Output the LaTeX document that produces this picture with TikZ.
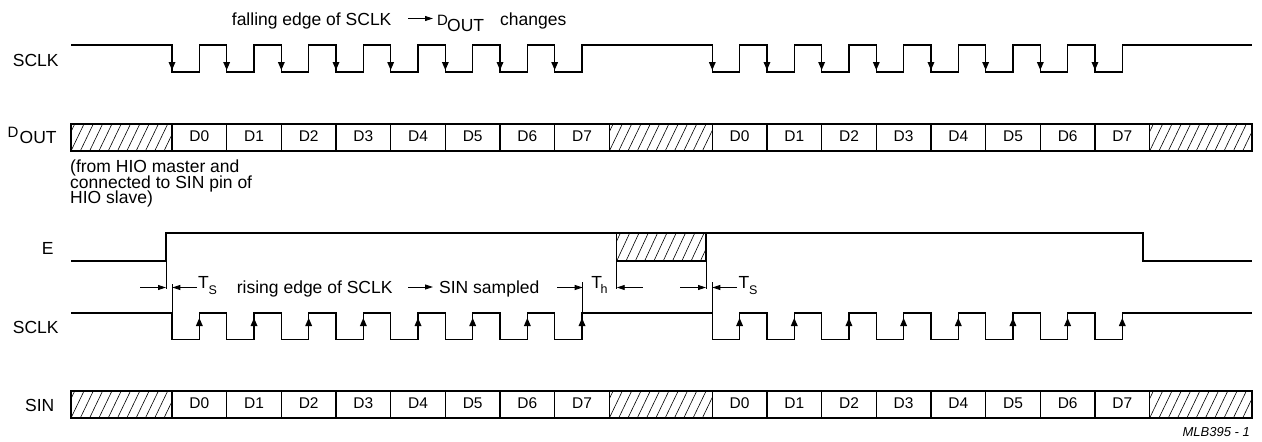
\documentclass[tikz,border=0pt]{standalone}
\usepackage{fontspec}
\setmainfont{Liberation Sans}
\usetikzlibrary{arrows.meta}
\tikzset{
  sig/.style={line width=1.2pt, line join=miter},
  txt/.style={inner sep=0pt, anchor=base west, font=\fontsize{17.5}{15.5}\selectfont},
  subtxt/.style={inner sep=0pt, anchor=base west, font=\fontsize{12.5}{12.5}\selectfont},
  bigd/.style={inner sep=0pt, anchor=base west, font=\fontsize{15}{15}\selectfont},
  celltxt/.style={inner sep=0pt, anchor=base, font=\fontsize{15.5}{15.5}\selectfont},
  hatchline/.style={line width=0.6pt},
  dimarrow/.style={line width=0.9pt, -{Triangle[length=8pt,width=5pt]}},
  tickline/.style={line width=0.9pt},
}
\begin{document}
\begin{tikzpicture}[x=1pt,y=-1pt]
\useasboundingbox (0,0) rectangle (1262,442);

% ---------- header text ----------
\node[txt] (hdr) at (231.7,25.5) {falling edge of SCLK};
\coordinate (ha1) at (408,18.5);
\coordinate (ha2) at (433,18.5);
\draw[dimarrow] (ha1) -- (ha2);
\node[bigd] (hD) at (437,25.5) {D};
\node[txt] (hOUT) at (447,31.5) {OUT};
\node[txt] (hch) at (500,25.5) {changes};

% ---------- left labels ----------
\node[txt] (lsclk1) at (12.7,66) {SCLK};
\node[bigd] (lD) at (7.5,137) {D};
\node[txt] (lOUT) at (19.5,143.3) {OUT};
\node[txt] (note1) at (70,172.7) {(from HIO master and};
\node[txt] (note2) at (70,188.2) {connected to SIN pin of};
\node[txt] (note3) at (70,203.7) {HIO slave)};
\node[txt] (lE) at (41.7,254) {E};
\node[txt] (lsclk2) at (12.7,333.3) {SCLK};
\node[txt] (lsin) at (25,411.7) {SIN};

% ---------- top SCLK ----------
\draw[sig] (71,45)
  \foreach \k in {0,...,7}{ -- ({172+\k*54.67},45) -- ({172+\k*54.67},72) -- ({199.33+\k*54.67},72) -- ({199.33+\k*54.67},45) }
  \foreach \k in {0,...,7}{ -- ({712.3+\k*54.67},45) -- ({712.3+\k*54.67},72) -- ({739.6+\k*54.67},72) -- ({739.6+\k*54.67},45) }
  -- (1252,45);
\foreach \s in {172,712.3}{
  \foreach \k in {0,...,7}{
    \fill ({\s+\k*54.67-3.5},62) -- ++(7,0) -- ++(-3.5,8) -- cycle;
  }
}

% ---------- bottom SCLK ----------
\draw[sig] (71,313)
  \foreach \k in {0,...,7}{ -- ({172+\k*54.67},313) -- ({172+\k*54.67},339.5) -- ({199.33+\k*54.67},339.5) -- ({199.33+\k*54.67},313) }
  \foreach \k in {0,...,7}{ -- ({712.3+\k*54.67},313) -- ({712.3+\k*54.67},339.5) -- ({739.6+\k*54.67},339.5) -- ({739.6+\k*54.67},313) }
  -- (1252,313);
\foreach \s in {199.33,739.6}{
  \foreach \k in {0,...,7}{
    \fill ({\s+\k*54.67-3.5},326) -- ++(7,0) -- ++(-3.5,-8) -- cycle;
  }
}

% ---------- data rows ----------
\foreach \t/\b/\r in {124/151/o,391/418/i}{
  \foreach \x/\w in {71/101, 609.36/102.94, 1149.66/102.34}{
    \begin{scope}
      \clip (\x,\t) rectangle ({\x+\w},\b);
      \foreach \i in {-2,...,12}{
        \draw[hatchline] ({\x+\i*9.3},\b) -- ++(13,-27);
      }
    \end{scope}
  }
  \draw[sig] (71,\t) rectangle (1252,\b);
  \foreach \k in {0,...,8}{
    \draw[sig] ({172+\k*54.67},\t) -- ({172+\k*54.67},\b);
    \draw[sig] ({712.3+\k*54.67},\t) -- ({712.3+\k*54.67},\b);
  }
  \foreach \k in {0,...,7}{
    \node[celltxt] (a\r\k) at ({172+(\k+0.5)*54.67},{\b-9.3}) {D\k};
    \node[celltxt] (b\r\k) at ({712.3+(\k+0.5)*54.67},{\b-9.3}) {D\k};
  }
}

% ---------- E ----------
\draw[sig] (71,261) -- (166,261) -- (166,233) -- (1143,233) -- (1143,261) -- (1252,261);
\begin{scope}
  \clip (616.7,233) rectangle (706,261);
  \foreach \i in {-2,...,11}{
    \draw[hatchline] ({616.7+\i*9.3},261) -- ++(13,-28);
  }
\end{scope}
\draw[sig] (616.7,233) rectangle (706,261);

% ---------- timing annotations ----------
\coordinate (t1a) at (166,261);  \coordinate (t1b) at (166,289);
\draw[tickline] (t1a) -- (t1b);
\coordinate (a1s) at (140,287.5); \coordinate (a1e) at (166,287.5);
\draw[dimarrow] (a1s) -- (a1e);
\coordinate (t2a) at (172.3,284); \coordinate (t2b) at (172.3,313);
\draw[tickline] (t2a) -- (t2b);
\coordinate (a2s) at (197,287.5); \coordinate (a2e) at (172.3,287.5);
\draw[dimarrow] (a2s) -- (a2e);
\node[txt] (ts1) at (198,288.3) {T};
\node[subtxt] (ts1s) at (208.5,294) {S};

\node[txt] (rise) at (236.7,293.3) {rising edge of SCLK};
\coordinate (ra1) at (408,287); \coordinate (ra2) at (433,287);
\draw[dimarrow] (ra1) -- (ra2);
\node[txt] (samp) at (439,293.3) {SIN sampled};

\coordinate (a3s) at (557,287.5); \coordinate (a3e) at (582.7,287.5);
\draw[dimarrow] (a3s) -- (a3e);
\coordinate (t3a) at (582.7,282); \coordinate (t3b) at (582.7,313);
\draw[tickline] (t3a) -- (t3b);
\node[txt] (th) at (591.2,288.3) {T};
\node[subtxt] (ths) at (600.5,293.8) {h};

\coordinate (t4a) at (616.7,261); \coordinate (t4b) at (616.7,289);
\draw[tickline] (t4a) -- (t4b);
\coordinate (a4s) at (642.7,287.5); \coordinate (a4e) at (616.7,287.5);
\draw[dimarrow] (a4s) -- (a4e);

\coordinate (t5a) at (706,261); \coordinate (t5b) at (706,289);
\draw[tickline] (t5a) -- (t5b);
\coordinate (a5s) at (680,287.5); \coordinate (a5e) at (706,287.5);
\draw[dimarrow] (a5s) -- (a5e);

\coordinate (t6a) at (712.3,282); \coordinate (t6b) at (712.3,313);
\draw[tickline] (t6a) -- (t6b);
\coordinate (a6s) at (737,287.5); \coordinate (a6e) at (712.3,287.5);
\draw[dimarrow] (a6s) -- (a6e);
\node[txt] (ts2) at (738.5,288.3) {T};
\node[subtxt] (ts2s) at (749,294) {S};

% ---------- figure code ----------
\node[inner sep=0pt, anchor=base east, font=\fontsize{13}{13}\selectfont\itshape] (code) at (1250,436.7) {MLB395 - 1};
\end{tikzpicture}
\end{document}
